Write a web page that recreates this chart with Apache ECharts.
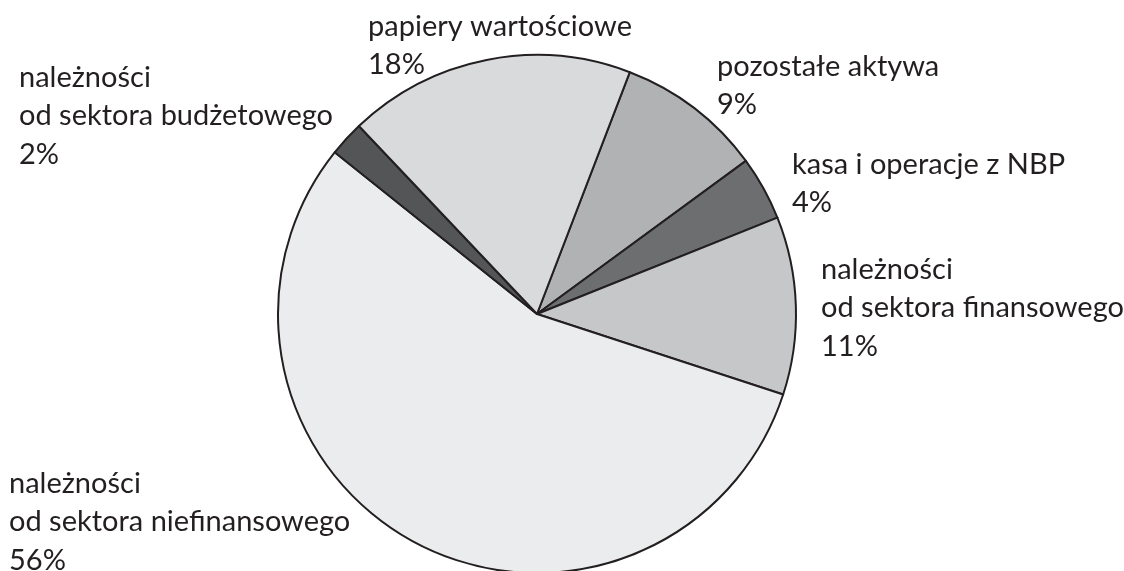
<!DOCTYPE html>
<html>
<head>
<meta charset="utf-8">
<script src="https://cdn.jsdelivr.net/npm/echarts@6/dist/echarts.min.js"></script>
<style>
html,body{margin:0;padding:0;background:#fff;}
#chart{width:1124px;height:571px;}
</style>
</head>
<body>
<div id="chart"></div>
<script>
// Data (clockwise, starting from the slice right of 12 o'clock)
var categories = [
  'pozostałe aktywa',
  'kasa i operacje z NBP',
  'należności\nod sektora finansowego',
  'należności\nod sektora niefinansowego',
  'należności\nod sektora budżetowego',
  'papiery wartościowe'
];
var shares = [9.1, 4.0, 11.1, 55.7, 2.2, 17.9];
var percentLabels = ['9%', '4%', '11%', '56%', '2%', '18%'];

// Styling / layout
var colors = ['#b1b2b4', '#6d6e70', '#c6c7c9', '#ebecee', '#545557', '#d9dadc'];
var labelPos = [[717, 47], [792, 145], [821, 250], [9, 464], [19, 58], [368, 7]];

var chart = echarts.init(document.getElementById('chart'), null, {renderer: 'canvas'});
var data = categories.map(function (c, i) {
  return {name: c, value: shares[i], itemStyle: {color: colors[i]}};
});
chart.setOption({
  animation: false,
  series: [{
    type: 'pie',
    center: [537, 314],
    radius: 259,
    startAngle: 69,
    clockwise: true,
    silent: true,
    data: data,
    itemStyle: {borderColor: '#231f20', borderWidth: 2},
    label: {
      show: true,
      position: 'outside',
      color: '#231f20',
      fontFamily: 'Lato',
      fontSize: 29,
      lineHeight: 38.5,
      align: 'left',
      overflow: 'none',
      formatter: function (p) { return p.name + '\n' + percentLabels[p.dataIndex]; }
    },
    labelLine: {show: false},
    labelLayout: function (params) {
      var p = labelPos[params.dataIndex];
      return {x: p[0], y: p[1], align: 'left', verticalAlign: 'top', hideOverlap: false, moveOverlap: null};
    }
  }]
});
</script>
</body>
</html>
